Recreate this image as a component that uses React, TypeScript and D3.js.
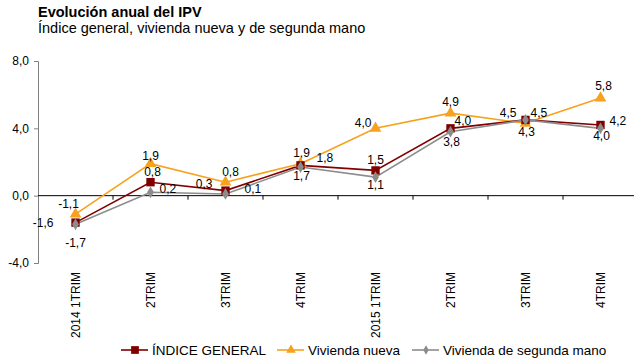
import React, { useEffect, useRef } from 'react';
import * as d3 from 'd3';

// quarters on the x axis
const categories = [
  '2014 1TRIM',
  '2TRIM',
  '3TRIM',
  '4TRIM',
  '2015 1TRIM',
  '2TRIM',
  '3TRIM',
  '4TRIM',
];

const indiceGeneral = [-1.6, 0.8, 0.3, 1.8, 1.5, 4.0, 4.5, 4.2];
const viviendaNueva = [-1.1, 1.9, 0.8, 1.9, 4.0, 4.9, 4.3, 5.8];
const viviendaSegunda = [-1.7, 0.2, 0.1, 1.7, 1.1, 3.8, 4.5, 4.0];

const yTicks = [-4, 0, 4, 8];

const seriesNames = ['ÍNDICE GENERAL', 'Vivienda nueva', 'Vivienda de segunda mano'];

// label placement per point: [dx, dy, anchor]
type Lab = [number, number, string];
const labGeneral: Lab[] = [
  [-22, 4, 'end'], [2, -6, 'middle'], [-13, -3, 'end'], [16, -3, 'start'],
  [0, -6, 'middle'], [4, -3, 'start'], [-9, -3, 'end'], [9, 0, 'start'],
];
const labNueva: Lab[] = [
  [-7, -6, 'middle'], [0, -4, 'middle'], [5, -6, 'middle'], [1, -7, 'middle'],
  [-4, -1, 'end'], [0, -7, 'middle'], [1, 13, 'middle'], [3, -8, 'middle'],
];
const labSegunda: Lab[] = [
  [0, 23, 'middle'], [9, 1, 'start'], [19, -1, 'start'], [1, 13, 'middle'],
  [0, 12, 'middle'], [1, 14, 'middle'], [5, -3, 'start'], [1, 12, 'middle'],
];

const colors = ['#800000', '#F7A11C', '#8C8C8C'];

const W = 634;
const H = 363;
const margin = { left: 38, right: -4 };

const fmt = (v: number) => v.toFixed(1).replace('.', ',');

const App = () => {
  const svgRef = useRef<SVGSVGElement>(null);

  useEffect(() => {
    const svg = d3.select(svgRef.current);
    svg.selectAll('*').remove();

    const x = d3
      .scaleBand()
      .domain(categories.map((c, i) => String(i)))
      .range([margin.left, W - margin.right]);
    const y = d3.scaleLinear().domain([-4, 8]).range([263, 61]);

    const font = 'Liberation Sans, Arial, sans-serif';

    // titles
    svg
      .append('text')
      .attr('x', 38)
      .attr('y', 17)
      .attr('font-family', font)
      .attr('font-size', 14.5)
      .attr('font-weight', 'bold')
      .text('Evolución anual del IPV');
    svg
      .append('text')
      .attr('x', 38)
      .attr('y', 33)
      .attr('font-family', font)
      .attr('font-size', 14.5)
      .text('Índice general, vivienda nueva y de segunda mano');

    // y axis
    const yAxis = d3
      .axisLeft(y)
      .tickValues(yTicks)
      .tickSize(4)
      .tickFormat((d) => fmt(d as number));
    const gy = svg
      .append('g')
      .attr('transform', `translate(${margin.left},0)`)
      .call(yAxis);
    gy.select('.domain').attr('stroke', '#808080');
    gy.selectAll('.tick line').attr('stroke', '#808080');
    gy.selectAll('.tick text')
      .attr('font-family', font)
      .attr('font-size', 12)
      .attr('fill', '#000')
      .attr('dx', -2);

    // zero line with category ticks
    const y0 = y(0);
    svg
      .append('line')
      .attr('x1', margin.left)
      .attr('x2', W)
      .attr('y1', y0)
      .attr('y2', y0)
      .attr('stroke', '#000')
      .attr('stroke-width', 1);
    categories.forEach((c, i) => {
      if (i === 0) return;
      const bx = x(String(i))!;
      svg
        .append('line')
        .attr('x1', bx)
        .attr('x2', bx)
        .attr('y1', y0)
        .attr('y2', y0 + 4)
        .attr('stroke', '#000');
    });

    // category labels, rotated
    categories.forEach((c, i) => {
      const cx = x(String(i))! + x.bandwidth() / 2;
      svg
        .append('text')
        .attr('transform', `translate(${cx + 4},272) rotate(-90)`)
        .attr('text-anchor', 'end')
        .attr('font-family', font)
        .attr('font-size', 12)
        .text(c);
    });

    const all = [
      { values: viviendaNueva, color: colors[1], shape: d3.symbolTriangle, size: 60, labs: labNueva },
      { values: indiceGeneral, color: colors[0], shape: d3.symbolSquare, size: 70, labs: labGeneral },
      { values: viviendaSegunda, color: colors[2], shape: d3.symbolDiamond, size: 40, labs: labSegunda },
    ];

    const cxOf = (i: number) => x(String(i))! + x.bandwidth() / 2;
    const line = d3
      .line<number>()
      .x((d, i) => cxOf(i))
      .y((d) => y(d));

    all.forEach((s) => {
      svg
        .append('path')
        .attr('d', line(s.values))
        .attr('fill', 'none')
        .attr('stroke', s.color)
        .attr('stroke-width', 1.6);
    });
    all.forEach((s) => {
      svg
        .append('g')
        .selectAll('path')
        .data(s.values)
        .join('path')
        .attr('transform', (d, i) => `translate(${cxOf(i)},${y(d)})`)
        .attr('d', d3.symbol(s.shape, s.size)())
        .attr('fill', s.color);
    });

    // data labels
    all.forEach((s) => {
      s.values.forEach((v, i) => {
        const [dx, dy, anchor] = s.labs[i];
        svg
          .append('text')
          .attr('x', cxOf(i) + dx)
          .attr('y', y(v) + dy)
          .attr('text-anchor', anchor)
          .attr('font-family', font)
          .attr('font-size', 12)
          .attr('fill', '#000')
          .text(fmt(v));
      });
    });

    // legend
    const legendX = [121, 277, 412];
    const legendShapes = [
      { shape: d3.symbolSquare, size: 60, color: colors[0] },
      { shape: d3.symbolTriangle, size: 40, color: colors[1] },
      { shape: d3.symbolDiamond, size: 25, color: colors[2] },
    ];
    seriesNames.forEach((name, i) => {
      const lx = legendX[i];
      const g = svg.append('g').attr('transform', `translate(${lx},350)`);
      g.append('line')
        .attr('x1', 0)
        .attr('x2', 27)
        .attr('stroke', legendShapes[i].color)
        .attr('stroke-width', 1.6);
      g.append('path')
        .attr('transform', 'translate(14,0)')
        .attr('d', d3.symbol(legendShapes[i].shape, legendShapes[i].size)())
        .attr('fill', legendShapes[i].color);
      g.append('text')
        .attr('x', 31)
        .attr('y', 4.5)
        .attr('font-family', font)
        .attr('font-size', 13.5)
        .text(name);
    });
  }, []);

  return (
    <svg
      ref={svgRef}
      width={W}
      height={H}
      style={{ position: 'absolute', left: 0, top: 0, background: '#fff' }}
    />
  );
};

export default App;
